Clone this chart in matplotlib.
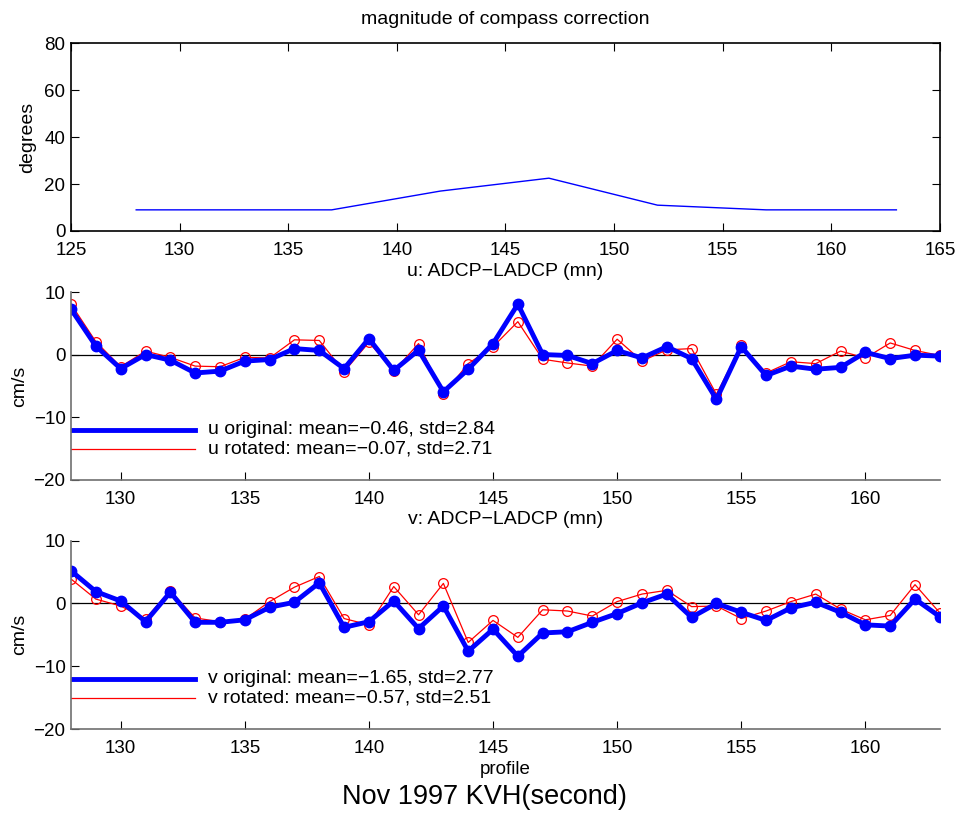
import numpy as np
import matplotlib
matplotlib.use("Agg")
from matplotlib import pyplot as plt

plt.rcParams["font.family"] = ["Liberation Sans", "DejaVu Sans"]

# compass correction magnitude
corr_profile = [128, 137, 142, 147, 152, 157, 163]
corr_deg = [9, 9, 17, 22.5, 11, 9, 9]

profiles = list(range(128, 164))

# u: ADCP-LADCP
u_orig = [7.3, 1.4, -2.2, 0.05, -0.85, -2.9, -2.6, -1.0, -0.75, 1.0,
          0.7, -2.2, 2.6, -2.5, 0.75, -5.9, -2.3, 1.8, 8.1, 0.05,
          -0.1, -1.4, 0.7, -0.5, 1.3, -0.6, -7.1, 1.3, -3.3, -1.8,
          -2.3, -2.0, 0.4, -0.6, -0.05, -0.2]
u_rot = [8.1, 2.1, -1.9, 0.6, -0.4, -1.8, -1.9, -0.4, -0.5, 2.4,
         2.3, -2.7, 2.0, -2.6, 1.8, -6.3, -1.4, 1.3, 5.3, -0.7,
         -1.3, -1.8, 2.5, -1.0, 0.8, 1.0, -6.3, 1.5, -2.9, -1.1,
         -1.4, 0.6, -0.5, 1.9, 0.7, -0.1]

# v: ADCP-LADCP
v_orig = [5.2, 1.9, 0.4, -2.9, 1.8, -3.0, -3.0, -2.6, -0.6, 0.2,
          3.3, -3.8, -2.9, 0.4, -4.0, -0.4, -7.6, -4.1, -8.4, -4.7,
          -4.5, -3.0, -1.6, 0.1, 1.5, -2.2, 0.0, -1.4, -2.7, -0.7,
          0.2, -1.4, -3.4, -3.6, 0.7, -2.1]
v_rot = [3.9, 0.7, -0.4, -2.4, 2.0, -2.3, -2.9, -2.5, 0.3, 2.6,
         4.3, -2.4, -3.4, 2.7, -1.8, 3.2, -6.2, -2.7, -5.4, -1.0,
         -1.2, -2.0, 0.3, 1.5, 2.1, -0.5, -0.4, -2.4, -1.2, 0.3,
         1.5, -0.9, -2.6, -1.9, 3.0, -1.5]

u_labels = ["u original: mean=\u22120.46, std=2.84",
            "u rotated: mean=\u22120.07, std=2.71"]
v_labels = ["v original: mean=\u22121.65, std=2.77",
            "v rotated: mean=\u22120.57, std=2.51"]

fig = plt.figure(figsize=(9.6, 8.13), dpi=100)

# top panel
ax1 = fig.add_axes([0.074, 0.7159, 0.905, 0.2309])
ax1.plot(corr_profile, corr_deg, color="b", lw=1)
ax1.set_xlim(125, 165)
ax1.set_ylim(0, 80)
ax1.set_xticks(range(125, 166, 5))
ax1.set_yticks(range(0, 81, 20))
ax1.set_ylabel("degrees", fontsize=14, labelpad=6)
ax1.set_title("magnitude of compass correction", fontsize=14, pad=14)
ax1.tick_params(direction="in", length=6, top=True, right=True, labelsize=13.5)
ax1.tick_params(axis="x", pad=8)
ax1.tick_params(axis="y", pad=4)
for s in ax1.spines.values():
    s.set_linewidth(1.2)


def vel_panel(ax, orig, rot, labels, title):
    ax.axhline(0, color="k", lw=0.9)
    ax.plot(profiles, rot, color="r", lw=0.9, marker="o", ms=7,
            mfc="none", mec="r", mew=0.9)
    ax.plot(profiles, orig, color="b", lw=3.5, marker="o", ms=7.5,
            mfc="b", mec="b")
    # legend drawn in data coords
    ax.plot([128, 133], [-12, -12], color="b", lw=3.5)
    ax.plot([128, 133], [-15, -15], color="r", lw=0.9)
    ax.text(133.5, -12, labels[0], fontsize=14, va="center")
    ax.text(133.5, -15, labels[1], fontsize=14, va="center")
    ax.set_xlim(128, 163)
    ax.set_ylim(-20, 10)
    ax.set_xticks(range(130, 161, 5))
    ax.set_yticks([-20, -10, 0, 10])
    ax.set_yticklabels(["\u221220", "\u221210", "0", "10"])
    ax.set_ylabel("cm/s", fontsize=14, labelpad=4)
    ax.set_title(title, fontsize=14, pad=12)
    ax.tick_params(direction="in", length=6, labelsize=13.5)
    ax.tick_params(axis="x", pad=8)
    ax.tick_params(axis="y", pad=4)
    ax.spines["top"].set_visible(False)
    ax.spines["right"].set_visible(False)
    for side in ["left", "bottom"]:
        ax.spines[side].set_color("#707070")
        ax.spines[side].set_linewidth(1.2)


ax2 = fig.add_axes([0.074, 0.4096, 0.905, 0.2309])
vel_panel(ax2, u_orig, u_rot, u_labels, "u: ADCP\u2212LADCP (mn)")

ax3 = fig.add_axes([0.074, 0.1033, 0.905, 0.2316])
vel_panel(ax3, v_orig, v_rot, v_labels, "v: ADCP\u2212LADCP (mn)")
ax3.set_xlabel("profile", fontsize=13.5, labelpad=3)

fig.text(0.505, 0.0197, "Nov 1997 KVH(second)", fontsize=19.5,
         ha="center", va="center")

fig.savefig("out.png", dpi=100)
